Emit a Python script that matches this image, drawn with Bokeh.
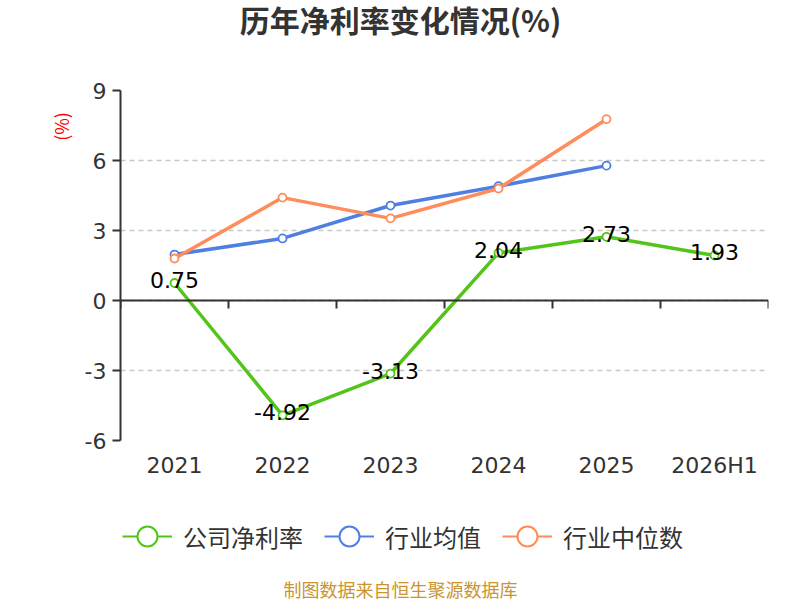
import math

from bokeh.core.properties import value
from bokeh.embed import file_html
from bokeh.layouts import column
from bokeh.models import (ColumnDataSource, CustomJSTickFormatter, FixedTicker,
                          Label, LabelSet, Legend, LegendItem, LinearAxis,
                          Range1d)
from bokeh.plotting import figure
from bokeh.resources import INLINE

# data
categories = ["2021", "2022", "2023", "2024", "2025", "2026H1"]
company_margin = [0.75, -4.92, -3.13, 2.04, 2.73, 1.93]
industry_mean = [1.97, 2.66, 4.07, 4.90, 5.78]
industry_median = [1.80, 4.41, 3.52, 4.80, 7.77]
y_ticks = [-6, -3, 0, 3, 6, 9]

GREEN = "#52c41a"
BLUE = "#4f7fe3"
ORANGE = "#ff8c5a"
TEXT = "#333333"
CJK = "Noto Sans CJK SC"
NUM = "DejaVu Sans"

W = 800
LEFT, RIGHT = 120, 32
TOP_H, MAIN_H, BOTTOM_H = 45, 455, 100


def text_strip(height):
    # bare figure that only holds texts / legend; its frame lines up with
    # the chart frame, and its x range is in page pixels
    f = figure(width=W, height=height, x_range=Range1d(LEFT, W - RIGHT),
               y_range=Range1d(0, height), output_backend="svg",
               toolbar_location=None, x_axis_location=None,
               y_axis_location=None, min_border_left=LEFT,
               min_border_right=RIGHT, min_border_top=0, min_border_bottom=0)
    f.outline_line_color = None
    f.xgrid.visible = False
    f.ygrid.visible = False
    return f


# title strip
top = text_strip(TOP_H)
top.add_layout(Label(
    x=W / 2, y=27, text="历年净利率变化情况(%)",
    text_align="center", text_baseline="middle", text_line_height=1.0,
    text_font=CJK, text_font_size="30px", text_font_style="bold",
    text_color=TEXT,
))

# main chart
slot_mid = [i + 0.5 for i in range(len(categories))]
slot_edges = list(range(len(categories) + 1))

p = figure(
    width=W,
    height=MAIN_H,
    x_range=Range1d(0, len(categories)),
    y_range=Range1d(y_ticks[0], y_ticks[-1]),
    output_backend="svg",
    toolbar_location=None,
    min_border_left=LEFT,
    min_border_right=RIGHT,
    min_border_top=90 - TOP_H,
    min_border_bottom=60,
)
p.outline_line_color = None

p.xgrid.visible = False
p.ygrid.ticker = FixedTicker(ticks=y_ticks)
p.ygrid.grid_line_color = "#c8c8c8"
p.ygrid.grid_line_dash = "5 4"
p.ygrid.grid_line_width = 1.5

ya = p.yaxis[0]
ya.ticker = FixedTicker(ticks=y_ticks)
ya.formatter = CustomJSTickFormatter(code="return tick.toString();")
ya.axis_line_color = TEXT
ya.axis_line_width = 2
ya.major_tick_line_color = TEXT
ya.major_tick_line_width = 2
ya.major_tick_out = 8
ya.major_tick_in = 0
ya.minor_tick_out = 0
ya.major_label_standoff = 6
ya.major_label_text_font = NUM
ya.major_label_text_font_size = "22px"
ya.major_label_text_color = TEXT

xa = p.xaxis[0]
xa.ticker = FixedTicker(ticks=slot_mid)
xa.formatter = CustomJSTickFormatter(
    args=dict(labels=categories), code="return labels[Math.floor(tick)];")
xa.axis_line_color = None
xa.major_tick_line_color = None
xa.minor_tick_line_color = None
xa.major_tick_out = 0
xa.major_tick_in = 0
xa.minor_tick_out = 0
xa.major_label_standoff = 12
xa.major_label_text_font = NUM
xa.major_label_text_font_size = "22px"
xa.major_label_text_color = TEXT

# solid zero line with ticks between the categories
zero_axis = LinearAxis(
    fixed_location=0,
    ticker=FixedTicker(ticks=slot_edges),
    formatter=CustomJSTickFormatter(code="return '';"),
    axis_line_color=TEXT,
    axis_line_width=2,
    major_tick_line_color=TEXT,
    major_tick_line_width=2,
    major_tick_out=8,
    major_tick_in=0,
    minor_tick_out=0,
    major_label_standoff=0,
)
p.add_layout(zero_axis, "below")

series = [
    ("公司净利率", slot_mid, company_margin, GREEN),
    ("行业均值", slot_mid[:len(industry_mean)], industry_mean, BLUE),
    ("行业中位数", slot_mid[:len(industry_median)], industry_median, ORANGE),
]
sources = []
for name, xs, ys, color in series:
    src = ColumnDataSource(data=dict(x=xs, y=ys))
    sources.append(src)
    p.line("x", "y", source=src, line_color=color, line_width=3.5)
    p.scatter("x", "y", source=src, size=8, marker="circle",
              fill_color="white", line_color=color, line_width=1.8)

lab_src = ColumnDataSource(data=dict(
    x=slot_mid, y=company_margin, txt=[f"{v:.2f}" for v in company_margin]))
p.add_layout(LabelSet(
    x="x", y="y", text="txt", source=lab_src,
    text_align="center", text_baseline="middle", y_offset=3,
    text_font=value(NUM), text_font_size=value("22px"), text_color="black",
))

p.add_layout(Label(
    x=60, y=126 - TOP_H, x_units="canvas", y_units="canvas", angle=math.pi / 2,
    text="(%)", text_align="center", text_baseline="middle",
    text_font=CJK, text_font_size="18px", text_color="red",
), "left")

# legend + source strip (legend proxies are hidden copies of the series)
bottom = text_strip(BOTTOM_H)
items = []
for (name, xs, ys, color), src in zip(series, sources):
    ln = bottom.line("x", "y", source=src, line_color=color, line_width=2,
                     visible=False)
    sc = bottom.scatter("x", "y", source=src, marker="circle",
                        fill_color="white", line_color=color, line_width=2,
                        visible=False)
    items.append(LegendItem(label=name, renderers=[ln, sc]))

legend = Legend(
    items=items,
    orientation="horizontal",
    location=(2, 39),
    margin=0,
    padding=0,
    spacing=21,
    glyph_width=50,
    glyph_height=50,
    label_standoff=11,
    label_text_font=CJK,
    label_text_font_size="24px",
    label_text_color=TEXT,
    border_line_alpha=0,
    background_fill_alpha=0,
    inactive_fill_alpha=0,
)
bottom.add_layout(legend, "center")

bottom.add_layout(Label(
    x=W / 2, y=12, text="制图数据来自恒生聚源数据库",
    text_align="center", text_baseline="middle",
    text_font=CJK, text_font_size="18px", text_color="#c9952e",
))

page = column(top, p, bottom, spacing=0)
open("out.html", "w").write(file_html(page, INLINE))
